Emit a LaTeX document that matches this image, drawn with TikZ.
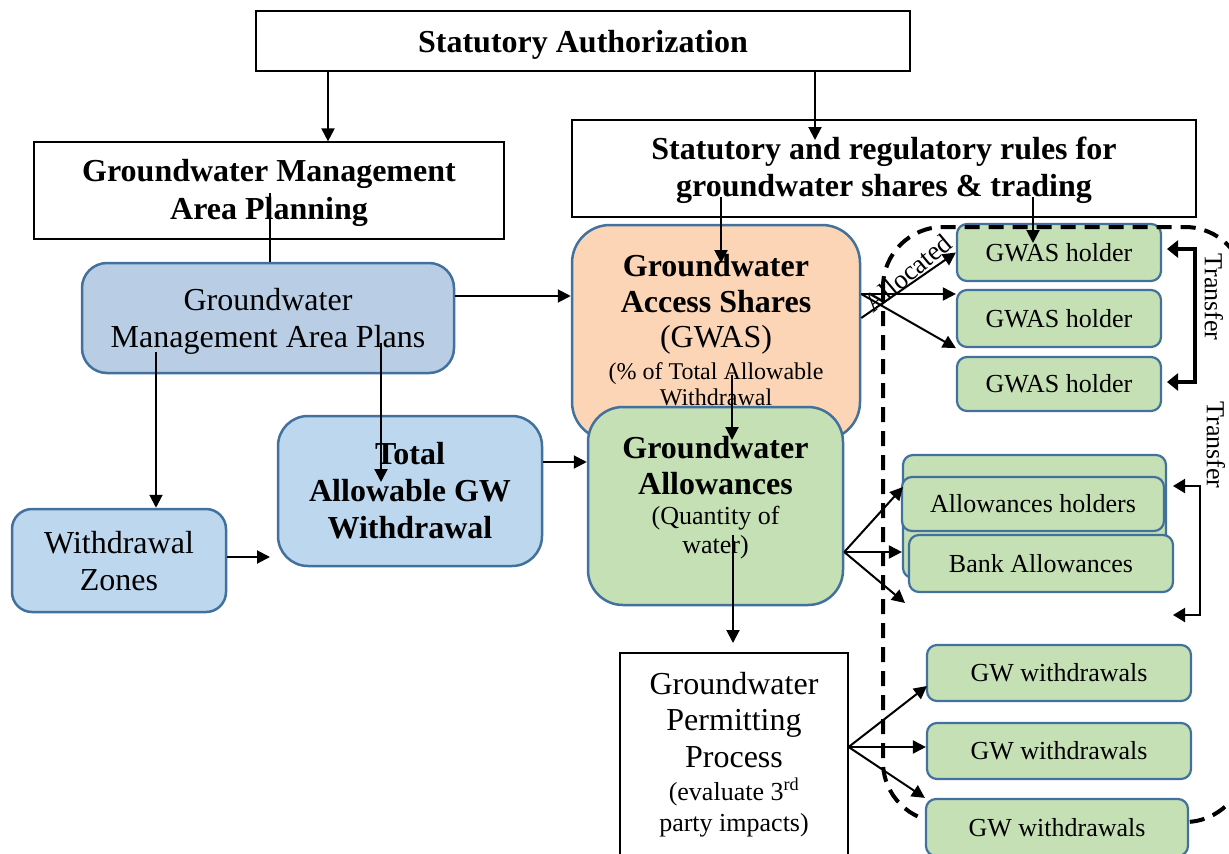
\documentclass[tikz,border=0pt]{standalone}
\usepackage{fontspec}
\setmainfont{Liberation Serif}
\usetikzlibrary{arrows.meta}
\definecolor{bb}{RGB}{65,113,156}
\definecolor{planfill}{RGB}{185,205,229}
\definecolor{lblue}{RGB}{189,215,238}
\definecolor{peach}{RGB}{251,213,181}
\definecolor{lgreen}{RGB}{197,224,180}
\begin{document}
\begin{tikzpicture}[x=1pt,y=-1pt,
  plainbox/.style={draw=black,line width=1.2pt,fill=white,inner sep=0pt,align=center},
  rbox/.style={draw=bb,line width=2.5pt,inner sep=0pt,align=center},
  smallbox/.style={draw=bb,line width=2.2pt,fill=lgreen,rounded corners=10pt,inner sep=0pt,font=\fontsize{26}{30}\selectfont},
  fbig/.style={font=\fontsize{32}{37}\selectfont},
  fbigb/.style={font=\fontsize{32}{37}\selectfont\bfseries},
  fmid/.style={font=\fontsize{26}{30}\selectfont},
  fsmall/.style={font=\fontsize{24}{27}\selectfont},
  txt/.style={anchor=base,inner sep=0pt},
  arr/.style={line width=2pt,-{Triangle[length=13pt,width=13pt]}},
  thickarr/.style={line width=4pt,{Triangle[length=11pt,width=17pt]}-{Triangle[length=11pt,width=17pt]}},
  thinarr/.style={line width=2pt,{Triangle[length=12pt,width=14pt]}-{Triangle[length=12pt,width=14pt]}},
  dashline/.style={line width=4pt,dash pattern=on 15pt off 9pt},
  plainline/.style={line width=2pt}
]
\useasboundingbox (0,0) rectangle (1229,854);
\clip (0,0) rectangle (1229,854);

% top boxes
\node[plainbox,minimum width=654pt,minimum height=60pt] (sa) at (583,41) {};
\node[txt,fbigb] (sat) at (583,52) {Statutory Authorization};
\node[plainbox,minimum width=470pt,minimum height=97pt] (gmap) at (269,190.5) {};
\node[txt,fbigb] (gmapt1) at (269,181.5) {Groundwater Management};
\node[txt,fbigb] (gmapt2) at (269,219) {Area Planning};
\node[plainbox,minimum width=624pt,minimum height=97pt] (srr) at (884,168.5) {};
\node[txt,fbigb] (srrt1) at (884,159) {Statutory and regulatory rules for};
\node[txt,fbigb] (srrt2) at (884,196) {groundwater shares \& trading};

% left blue boxes
\node[rbox,fill=planfill,rounded corners=25pt,minimum width=372pt,minimum height=110pt] (plans) at (268,318) {};
\node[txt,fbig] (planst1) at (268,310) {Groundwater};
\node[txt,fbig] (planst2) at (268,347) {Management Area Plans};
\node[rbox,fill=lblue,rounded corners=20pt,minimum width=214pt,minimum height=103pt] (wz) at (119,560.5) {};
\node[txt,fbig] (wzt1) at (119,553) {Withdrawal};
\node[txt,fbig] (wzt2) at (119,590) {Zones};
\node[rbox,fill=lblue,rounded corners=30pt,minimum width=264pt,minimum height=150pt] (taw) at (410,491) {};
\node[txt,fbigb] (tawt1) at (410,464) {Total};
\node[txt,fbigb] (tawt2) at (410,501) {Allowable GW};
\node[txt,fbigb] (tawt3) at (410,538) {Withdrawal};

% GWAS
\node[rbox,fill=peach,rounded corners=38pt,minimum width=288pt,minimum height=215pt] (gwas) at (716,332.5) {};
\node[txt,fbigb] (gwt1) at (716,276) {Groundwater};
\node[txt,fbigb] (gwt2) at (716,312) {Access Shares};
\node[txt,fbig] (gwt3) at (716,347) {(GWAS)};
\node[txt,fsmall] (gwt4) at (716,379) {(\% of Total Allowable};
\node[txt,fsmall] (gwt5) at (716,405) {Withdrawal};

% Groundwater allowances
\node[rbox,fill=lgreen,rounded corners=35pt,minimum width=255pt,minimum height=198pt] (ga) at (715.5,506) {};
\node[txt,fbigb] (gat1) at (715.5,458) {Groundwater};
\node[txt,fbigb] (gat2) at (715.5,494) {Allowances};
\node[txt,fmid] (gat3) at (715.5,524) {(Quantity of};
\node[txt,fmid] (gat4) at (715.5,553) {water)};

% Permitting
\node[plainbox,minimum width=228pt,minimum height=217pt] (perm) at (734,761.5) {};
\node[txt,fbig] (pt1) at (734,694) {Groundwater};
\node[txt,fbig] (pt2) at (734,730) {Permitting};
\node[txt,fbig] (pt3) at (734,767) {Process};
\node[txt,fmid] (pt4) at (734,800) {(evaluate 3\textsuperscript{rd}};
\node[txt,fmid] (pt5) at (734,831) {party impacts)};

% holders
\node[smallbox,minimum width=204pt,minimum height=57pt] (h1) at (1059,252.5) {GWAS holder};
\node[smallbox,minimum width=204pt,minimum height=57pt] (h2) at (1059,318.5) {GWAS holder};
\node[smallbox,minimum width=204pt,minimum height=54pt] (h3) at (1059,384) {GWAS holder};

\node[smallbox,minimum width=263pt,minimum height=123pt] (aback) at (1034.5,516.5) {};
\node[smallbox,minimum width=262pt,minimum height=54pt] (ah) at (1033,504) {Allowances holders};
\node[smallbox,minimum width=264pt,minimum height=57pt] (bank) at (1041,563.5) {Bank Allowances};

% dashed boundary
\draw[dashline,rounded corners=60pt] (883,227) rectangle (1245,822);

\node[smallbox,minimum width=264pt,minimum height=56pt] (w1) at (1059,673) {GW withdrawals};
\node[smallbox,minimum width=264pt,minimum height=56pt] (w2) at (1059,751) {GW withdrawals};
\node[smallbox,minimum width=262pt,minimum height=57pt] (w3) at (1057,827.5) {GW withdrawals};

% labels
\node[font=\fontsize{27}{30}\selectfont,rotate=40,inner sep=0pt] (alloc) at (908,273) {Allocated};
\node[fmid,rotate=-90,inner sep=0pt] (tr1) at (1214,297) {Transfer};
\node[fmid,rotate=-90,inner sep=0pt] (tr2) at (1216,445) {Transfer};

% connectors
\coordinate (c328) at (328,0);
\draw[arr] (sa.south -| c328) -- (gmap.north -| c328);
\coordinate (srrin) at (815,140);
\draw[arr] (sa.south -| srrin) -- (srrin);
\coordinate (gmapin) at (270,193);
\draw[plainline] (gmapin) -- (plans.north -| gmapin);
\coordinate (srrout1) at (721,197);
\coordinate (gwasin) at (721,263);
\draw[arr] (srrout1) -- (gwasin);
\coordinate (srrout2) at (1033,197);
\coordinate (h1in) at (1033,243);
\draw[arr] (srrout2) -- (h1in);
\coordinate (r296) at (0,296);
\draw[arr] (plans.east |- r296) -- (gwas.west |- r296);
\coordinate (plansout1) at (156,352);
\draw[arr] (plansout1) -- (wz.north -| plansout1);
\coordinate (plansout2) at (381,343);
\coordinate (tawin) at (381,482);
\draw[arr] (plansout2) -- (tawin);
\coordinate (wzarr) at (270,557);
\draw[arr] (wz.east |- wzarr) -- (wzarr);
\coordinate (r462) at (0,462);
\draw[arr] (taw.east |- r462) -- (ga.west |- r462);
\coordinate (gwasout) at (732,375);
\coordinate (gain) at (732,440);
\draw[arr] (gwasout) -- (gain);
\coordinate (gaout) at (733,535);
\coordinate (permin) at (733,643);
\draw[arr] (gaout) -- (permin);

\coordinate (g1) at (0,318);
\coordinate (g2) at (0,294);
\draw[arr] (gwas.east |- g1) -- (h1.west);
\draw[arr] (gwas.east |- g2) -- (h2.west |- g2);
\draw[arr] (gwas.east |- g2) -- (h2.south west);

\coordinate (r552) at (0,552);
\coordinate (ahin) at (903,487);
\coordinate (bankin) at (905,603);
\draw[arr] (ga.east |- r552) -- (ahin);
\draw[arr] (ga.east |- r552) -- (aback.west |- r552);
\draw[arr] (ga.east |- r552) -- (bankin);

\coordinate (r747) at (0,747);
\coordinate (w1in) at (927,686);
\draw[arr] (perm.east |- r747) -- (w1in);
\draw[arr] (perm.east |- r747) -- (w2.west |- r747);
\draw[arr] (perm.east |- r747) -- (w3.north west);

\coordinate (t1a) at (1167,249);
\coordinate (t1b) at (1167,382);
\coordinate (tcol) at (1195,0);
\draw[thickarr] (t1a) -- (t1a -| tcol) -- (t1b -| tcol) -- (t1b);
\coordinate (t2a) at (1173,486);
\coordinate (t2b) at (1173,615);
\coordinate (tcol2) at (1200,0);
\draw[thinarr] (t2a) -- (t2a -| tcol2) -- (t2b -| tcol2) -- (t2b);
\end{tikzpicture}
\end{document}
